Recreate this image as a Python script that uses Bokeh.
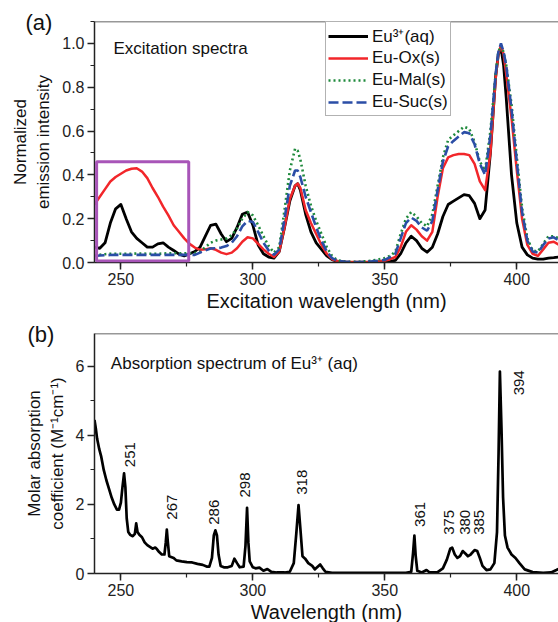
import numpy as np
from bokeh.plotting import figure
from bokeh.models import (Label, Span, BoxAnnotation, SingleIntervalTicker,
                          PrintfTickFormatter, Range1d)
from bokeh.layouts import column
from bokeh.embed import file_html
from bokeh.resources import INLINE
from bokeh.core.properties import value

FONT = "Liberation Sans"

# ---------------- data: panel (a) excitation spectra ----------------
ex_wl = [240, 242, 244, 246, 248, 250, 252, 254, 256, 258, 260, 262, 264, 266, 268, 270,
         272, 274, 276, 278, 280, 282, 284, 286, 288, 290, 292, 294, 296, 298, 300, 302,
         304, 306, 308, 310, 312, 314, 316, 317, 318, 320, 322, 324, 326, 328, 330, 332,
         335, 340, 345, 350, 352, 354, 356, 358, 360, 362, 364, 366, 368, 370, 372, 374,
         376, 378, 380, 382, 384, 386, 388, 390, 392, 393, 394, 395, 396, 398, 400, 402,
         404, 406, 408, 410, 412, 414, 416]

eu_aq = [0.07, 0.065, 0.09, 0.18, 0.245, 0.265, 0.2, 0.14, 0.11, 0.09, 0.07, 0.07, 0.085, 0.09, 0.07, 0.055,
         0.038, 0.03, 0.04, 0.05, 0.07, 0.12, 0.17, 0.175, 0.13, 0.095, 0.11, 0.16, 0.22, 0.23, 0.17, 0.08,
         0.04, 0.025, 0.02, 0.05, 0.16, 0.28, 0.35, 0.36, 0.33, 0.22, 0.14, 0.09, 0.06, 0.03, 0.013, 0.005,
         0.002, 0.0, 0.0, 0.003, 0.005, 0.01, 0.04, 0.09, 0.12, 0.1, 0.065, 0.047, 0.07, 0.13, 0.21, 0.265,
         0.28, 0.295, 0.31, 0.305, 0.27, 0.2, 0.24, 0.5, 0.85, 0.95, 0.98, 0.9, 0.75, 0.4, 0.18, 0.07,
         0.035, 0.02, 0.015, 0.015, 0.02, 0.022, 0.025]

eu_ox = [0.265, 0.3, 0.335, 0.37, 0.39, 0.405, 0.42, 0.428, 0.43, 0.415, 0.385, 0.34, 0.3, 0.255, 0.215, 0.17,
         0.14, 0.11, 0.085, 0.068, 0.058, 0.06, 0.065, 0.058, 0.045, 0.038, 0.045, 0.065, 0.095, 0.115, 0.11, 0.085,
         0.06, 0.04, 0.025, 0.05, 0.16, 0.29, 0.35, 0.36, 0.34, 0.24, 0.18, 0.13, 0.08, 0.04, 0.015, 0.007,
         0.003, 0.002, 0.003, 0.008, 0.015, 0.025, 0.07, 0.14, 0.17, 0.15, 0.12, 0.1, 0.14, 0.3, 0.43, 0.48,
         0.49, 0.495, 0.495, 0.49, 0.45, 0.37, 0.33, 0.5, 0.84, 0.95, 0.99, 0.95, 0.86, 0.66, 0.42, 0.2,
         0.08, 0.04, 0.03, 0.06, 0.09, 0.095, 0.08]

eu_mal = [0.03, 0.035, 0.038, 0.04, 0.04, 0.04, 0.04, 0.04, 0.041, 0.041, 0.04, 0.04, 0.04, 0.041, 0.042, 0.042,
          0.042, 0.042, 0.042, 0.043, 0.05, 0.07, 0.09, 0.1, 0.105, 0.11, 0.125, 0.155, 0.2, 0.23, 0.215, 0.17,
          0.12, 0.075, 0.045, 0.07, 0.24, 0.42, 0.52, 0.51, 0.47, 0.35, 0.26, 0.19, 0.13, 0.07, 0.03, 0.01,
          0.004, 0.003, 0.008, 0.02, 0.03, 0.05, 0.13, 0.2, 0.23, 0.21, 0.18, 0.165, 0.22, 0.35, 0.48, 0.56,
          0.58, 0.6, 0.62, 0.61, 0.55, 0.46, 0.42, 0.6, 0.86, 0.96, 0.99, 0.96, 0.9, 0.72, 0.48, 0.25,
          0.11, 0.055, 0.05, 0.085, 0.12, 0.12, 0.11]

eu_suc = [0.03, 0.032, 0.033, 0.034, 0.035, 0.035, 0.035, 0.035, 0.035, 0.035, 0.035, 0.035, 0.035, 0.035, 0.035, 0.035,
          0.035, 0.035, 0.035, 0.035, 0.045, 0.055, 0.064, 0.065, 0.068, 0.075, 0.09, 0.12, 0.165, 0.19, 0.185, 0.14,
          0.09, 0.055, 0.035, 0.06, 0.2, 0.35, 0.42, 0.42, 0.39, 0.3, 0.23, 0.16, 0.1, 0.05, 0.02, 0.008,
          0.003, 0.002, 0.005, 0.012, 0.025, 0.04, 0.11, 0.18, 0.205, 0.19, 0.16, 0.145, 0.19, 0.33, 0.46, 0.53,
          0.555, 0.575, 0.595, 0.59, 0.54, 0.45, 0.4, 0.58, 0.86, 0.96, 1.0, 0.96, 0.9, 0.7, 0.46, 0.23,
          0.1, 0.05, 0.045, 0.08, 0.11, 0.115, 0.1]

ex_names = ["Eu\u00b3\u207a(aq)", "Eu-Ox(s)", "Eu-Mal(s)", "Eu-Suc(s)"]

# ---------------- data: panel (b) absorption spectrum ----------------
abs_wl = [240, 240.5, 241, 241.8, 242.5, 243.5, 244.5, 245.5, 246.5, 247.5, 248.5, 249.3, 250, 250.6, 251.2,
          251.7, 252.2, 252.8, 253.5, 254.5, 255.3, 255.8, 256.3, 257, 258, 259, 260, 261, 262, 263,
          263.7, 264.5, 265.5, 266.5, 267, 267.4, 267.8, 268.3, 269, 270, 271, 273, 275, 277, 279,
          281, 282.5, 283.5, 284.5, 285.2, 285.8, 286.4, 287, 287.8, 289, 290.5, 292, 293, 294, 295,
          296.5, 297.2, 297.8, 298.3, 298.8, 300, 301, 302.5, 304, 305.5, 307, 309, 312, 314, 315.5,
          316.5, 317.3, 318, 318.8, 319.8, 321, 322.5, 323.5, 325.5, 326.5, 327.5, 330, 340, 350, 358,
          360, 360.7, 361.2, 361.7, 362.3, 364, 365.8, 367, 370, 372, 373.5, 374.8, 375.5, 376.5, 377.5,
          378.5, 379.5, 380.5, 381.5, 382.5, 384, 385, 386, 387, 388.5, 390, 391.5, 392.5, 393.1, 393.6,
          394.2, 394.8, 395.5, 396.5, 398, 399.5, 401, 403, 406, 410, 413, 415, 416]
abs_val = [4.45, 4.2, 3.9, 3.6, 3.4, 3.0, 2.7, 2.45, 2.2, 2.0, 1.85, 1.85, 2.05, 2.5, 2.9,
           2.5, 1.6, 1.2, 1.12, 1.08, 1.15, 1.45, 1.2, 1.12, 1.05, 0.9, 0.82, 0.77, 0.72, 0.75,
           0.7, 0.62, 0.55, 0.55, 0.9, 1.27, 0.9, 0.5, 0.48, 0.45, 0.38, 0.35, 0.33, 0.32, 0.28,
           0.25, 0.2, 0.2, 0.45, 1.1, 1.25, 1.1, 0.55, 0.22, 0.18, 0.18, 0.22, 0.43, 0.3, 0.18,
           0.2, 0.8, 1.9, 0.9, 0.35, 0.18, 0.15, 0.17, 0.08, 0.13, 0.05, 0.03, 0.03, 0.05, 0.3,
           1.2, 1.98, 1.3, 0.5, 0.43, 0.3, 0.22, 0.12, 0.26, 0.15, 0.05, 0.02, 0.02, 0.02, 0.02,
           0.05, 0.6, 1.1, 0.5, 0.08, 0.03, 0.1, 0.03, 0.04, 0.15, 0.4, 0.72, 0.75, 0.55, 0.45,
           0.5, 0.65, 0.58, 0.5, 0.55, 0.68, 0.65, 0.45, 0.22, 0.1, 0.12, 0.3, 1.2, 3.5, 5.85,
           4.2, 2.2, 1.1, 0.75, 0.55, 0.45, 0.3, 0.12, 0.04, 0.02, 0.03, 0.1, 0.14]

peak_labels = ["251", "267", "286", "298", "318", "361", "375", "380", "385", "394"]
peak_label_x = [253.4, 269.2, 285.1, 297.2, 318.7, 363.2, 374.5, 380.2, 385.8, 401.0]
peak_label_y = [3.08, 1.56, 1.41, 2.2, 2.28, 1.35, 1.12, 1.12, 1.12, 5.16]

panel_tags = ["(a)", "(b)"]

# highlighted region in panel (a)
box_x = [240.8, 275.7]
box_y = [0.007, 0.46]


def style_axes(p, ylabel):
    for ax in (p.xaxis[0], p.yaxis[0]):
        ax.axis_line_width = 1.5
        ax.axis_line_color = "#222222"
        ax.major_tick_out = 7
        ax.major_tick_in = 0
        ax.minor_tick_out = 4
        ax.minor_tick_in = 0
        ax.major_tick_line_width = 1.5
        ax.minor_tick_line_width = 1.2
        ax.major_tick_line_color = "#222222"
        ax.minor_tick_line_color = "#222222"
        ax.major_label_text_font = FONT
        ax.major_label_text_font_size = "16px"
        ax.major_label_text_color = "#222222"
        ax.major_label_standoff = 3
        ax.axis_label_text_font = FONT
        ax.axis_label_text_font_style = "normal"
        ax.axis_label_text_color = "#111111"
    p.xaxis[0].axis_label_text_font_size = "20px"
    p.xaxis[0].axis_label_standoff = 2
    p.yaxis[0].axis_label = ylabel
    p.yaxis[0].axis_label_text_font_size = "17px"
    p.yaxis[0].axis_label_standoff = 6
    p.xaxis[0].ticker = SingleIntervalTicker(interval=50, num_minor_ticks=2)


def panel_tag(p, text, offset):
    # panel letter drawn in the title slot, pulled down beside the frame corner
    p.title.text = text
    p.title.align = "left"
    p.title.vertical_align = "bottom"
    p.title.offset = offset
    p.title.standoff = -26
    p.title.text_font = FONT
    p.title.text_font_size = "22px"
    p.title.text_font_style = "normal"
    p.title.text_color = "#111111"


# ---------------- panel (a) ----------------
p1 = figure(frame_width=464, frame_height=241,
            x_range=Range1d(240, 415.8), y_range=Range1d(0, 1.1),
            output_backend="svg", toolbar_location=None,
            min_border_left=94, min_border_right=0, min_border_top=21, min_border_bottom=0)
p1.outline_line_color = None
p1.grid.visible = False
p1.background_fill_color = "white"
p1.border_fill_color = "white"

p1.line(ex_wl, eu_aq, line_color="black", line_width=2.8, line_join="round",
        legend_label=ex_names[0])
p1.line(ex_wl, eu_ox, line_color="#f2262a", line_width=2.5, line_join="round",
        legend_label=ex_names[1])
p1.line(ex_wl, eu_mal, line_color="#1f8a3c", line_width=2.6, line_dash="2 3",
        legend_label=ex_names[2])
p1.line(ex_wl, eu_suc, line_color="#2b4ea6", line_width=2.6, line_dash="10 4",
        legend_label=ex_names[3])

p1.add_layout(BoxAnnotation(left=box_x[0], right=box_x[1], bottom=box_y[0], top=box_y[1],
                            fill_alpha=0, line_color="#a855b8", line_alpha=1.0, line_width=3,
                            level="overlay"))
p1.add_layout(Span(location=1.1, dimension="width", line_color="#333333", line_width=1.5))

style_axes(p1, "Normalized\nemission intensity")
p1.xaxis[0].axis_label = "Excitation wavelength (nm)"
p1.yaxis[0].ticker = SingleIntervalTicker(interval=0.2, num_minor_ticks=2)
p1.yaxis[0].formatter = PrintfTickFormatter(format="%.1f")

p1.add_layout(Label(x=247.2, y=0.975, text="Excitation spectra", text_font=FONT,
                    text_font_size="17px", text_color="#111111", text_baseline="alphabetic"))
panel_tag(p1, panel_tags[0], -69)

leg = p1.legend[0]
leg.location = (231, 146)
leg.label_text_font = FONT
leg.label_text_font_size = "17px"
leg.label_text_color = "#111111"
leg.label_height = 22
leg.glyph_height = 22
leg.glyph_width = 40
leg.label_standoff = 4
leg.spacing = 0
leg.padding = 2
leg.margin = 0
leg.border_line_color = "#666666"
leg.border_line_width = 1
leg.background_fill_alpha = 1

# ---------------- panel (b) ----------------
p2 = figure(frame_width=464, frame_height=240,
            x_range=Range1d(240, 415.8), y_range=Range1d(0, 6.95),
            output_backend="svg", toolbar_location=None,
            min_border_left=94, min_border_right=0, min_border_top=19, min_border_bottom=0)
p2.outline_line_color = None
p2.grid.visible = False
p2.background_fill_color = "white"
p2.border_fill_color = "white"

p2.line(abs_wl, abs_val, line_color="black", line_width=2.7, line_join="round")
p2.text(x=peak_label_x, y=peak_label_y, text=peak_labels, angle=np.pi / 2,
        text_align="left", text_baseline="middle", text_font=value(FONT),
        text_font_size="15px", text_color="#111111")
p2.add_layout(Span(location=6.95, dimension="width", line_color="#333333", line_width=1.5))

style_axes(p2, "Molar absorption\ncoefficient (M\u207b\u00b9cm\u207b\u00b9)")
p2.xaxis[0].axis_label = "Wavelength (nm)"
p2.yaxis[0].ticker = SingleIntervalTicker(interval=2, num_minor_ticks=2)

p2.add_layout(Label(x=246.2, y=6.08, text="Absorption spectrum of Eu\u00b3\u207a (aq)", text_font=FONT,
                    text_font_size="17px", text_color="#111111", text_baseline="alphabetic"))
panel_tag(p2, panel_tags[1], -67)

layout = column(p1, p2, spacing=0)
open("out.html", "w").write(file_html(layout, INLINE))
